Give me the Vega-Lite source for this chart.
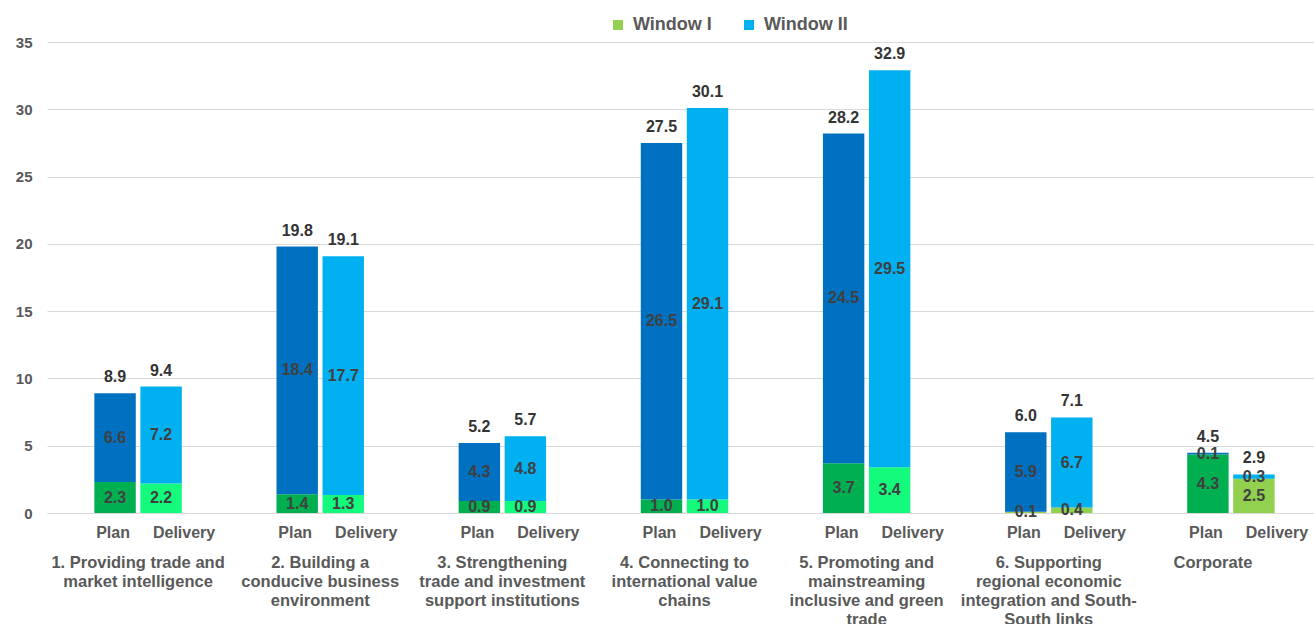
{
  "$schema": "https://vega.github.io/schema/vega-lite/v6.json",
  "autosize": {"type": "none"},
  "padding": {"left": 47, "top": 42, "right": 0, "bottom": 111},
  "width": 1267,
  "height": 471,
  "background": "white",
  "config": {
    "view": {"stroke": null},
    "font": "Liberation Sans"
  },
  "data": {
    "values": [
      {"group": "1. Providing trade and|market intelligence", "type": "Plan", "window": "Window I", "value": 2.3},
      {"group": "1. Providing trade and|market intelligence", "type": "Plan", "window": "Window II", "value": 6.6},
      {"group": "1. Providing trade and|market intelligence", "type": "Delivery", "window": "Window I", "value": 2.2},
      {"group": "1. Providing trade and|market intelligence", "type": "Delivery", "window": "Window II", "value": 7.2},
      {"group": "2. Building a|conducive business|environment", "type": "Plan", "window": "Window I", "value": 1.4},
      {"group": "2. Building a|conducive business|environment", "type": "Plan", "window": "Window II", "value": 18.4},
      {"group": "2. Building a|conducive business|environment", "type": "Delivery", "window": "Window I", "value": 1.33},
      {"group": "2. Building a|conducive business|environment", "type": "Delivery", "window": "Window II", "value": 17.74},
      {"group": "3. Strengthening|trade and investment|support institutions", "type": "Plan", "window": "Window I", "value": 0.9},
      {"group": "3. Strengthening|trade and investment|support institutions", "type": "Plan", "window": "Window II", "value": 4.3},
      {"group": "3. Strengthening|trade and investment|support institutions", "type": "Delivery", "window": "Window I", "value": 0.9},
      {"group": "3. Strengthening|trade and investment|support institutions", "type": "Delivery", "window": "Window II", "value": 4.8},
      {"group": "4. Connecting to|international value|chains", "type": "Plan", "window": "Window I", "value": 1.0},
      {"group": "4. Connecting to|international value|chains", "type": "Plan", "window": "Window II", "value": 26.5},
      {"group": "4. Connecting to|international value|chains", "type": "Delivery", "window": "Window I", "value": 1.0},
      {"group": "4. Connecting to|international value|chains", "type": "Delivery", "window": "Window II", "value": 29.1},
      {"group": "5. Promoting and|mainstreaming|inclusive and green|trade", "type": "Plan", "window": "Window I", "value": 3.7},
      {"group": "5. Promoting and|mainstreaming|inclusive and green|trade", "type": "Plan", "window": "Window II", "value": 24.5},
      {"group": "5. Promoting and|mainstreaming|inclusive and green|trade", "type": "Delivery", "window": "Window I", "value": 3.4},
      {"group": "5. Promoting and|mainstreaming|inclusive and green|trade", "type": "Delivery", "window": "Window II", "value": 29.5},
      {"group": "6. Supporting|regional economic|integration and South-|South links", "type": "Plan", "window": "Window I", "value": 0.1},
      {"group": "6. Supporting|regional economic|integration and South-|South links", "type": "Plan", "window": "Window II", "value": 5.9},
      {"group": "6. Supporting|regional economic|integration and South-|South links", "type": "Delivery", "window": "Window I", "value": 0.4},
      {"group": "6. Supporting|regional economic|integration and South-|South links", "type": "Delivery", "window": "Window II", "value": 6.7},
      {"group": "Corporate", "type": "Plan", "window": "Window I", "value": 4.34},
      {"group": "Corporate", "type": "Plan", "window": "Window II", "value": 0.13},
      {"group": "Corporate", "type": "Delivery", "window": "Window I", "value": 2.54},
      {"group": "Corporate", "type": "Delivery", "window": "Window II", "value": 0.33}
    ]
  },
  "transform": [
    {"stack": "value", "groupby": ["group", "type"], "sort": [{"field": "window", "order": "ascending"}], "as": ["v0", "v1"]},
    {"calculate": "(datum.v0 + datum.v1) / 2", "as": "mid"}
  ],
  "encoding": {
    "x": {
      "field": "group",
      "type": "nominal",
      "sort": null,
      "scale": {
        "domain": [
          "1. Providing trade and|market intelligence",
          "2. Building a|conducive business|environment",
          "3. Strengthening|trade and investment|support institutions",
          "4. Connecting to|international value|chains",
          "5. Promoting and|mainstreaming|inclusive and green|trade",
          "6. Supporting|regional economic|integration and South-|South links",
          "Corporate"
        ],
        "range": [0, 1275],
        "paddingInner": 0.52,
        "paddingOuter": 0.26
      },
      "axis": {
        "title": null,
        "labelExpr": "split(datum.value, '|')",
        "labelAngle": 0,
        "labelAlign": "center",
        "labelBaseline": "top",
        "labelFont": "Liberation Sans",
        "labelFontSize": 16.5,
        "labelFontWeight": "bold",
        "labelColor": "#595959",
        "labelLineHeight": 19,
        "labelPadding": 41,
        "labelLimit": 400,
        "labelOffset": {"condition": {"test": "datum.value == 'Corporate'", "value": -18}, "value": 0},
        "ticks": false,
        "tickSize": 0,
        "grid": false,
        "domain": true,
        "domainColor": "#D9D9D9",
        "domainWidth": 1
      }
    },
    "xOffset": {
      "field": "type",
      "type": "nominal",
      "scale": {"domain": ["Plan", "Delivery"], "paddingInner": 0.1, "paddingOuter": 0}
    }
  },
  "layer": [
    {
      "mark": {"type": "bar"},
      "encoding": {
        "y": {
          "field": "v0",
          "type": "quantitative",
          "scale": {"domain": [0, 35], "nice": false, "zero": true},
          "axis": {
            "title": null,
            "values": [0, 5, 10, 15, 20, 25, 30, 35],
            "grid": true,
            "gridColor": "#D9D9D9",
            "gridWidth": 1,
            "domain": false,
            "ticks": false,
            "tickSize": 0,
            "labelPadding": 15,
            "labelFont": "Liberation Sans",
            "labelFontSize": 15,
            "labelFontWeight": "bold",
            "labelColor": "#595959"
          }
        },
        "y2": {"field": "v1"},
        "fill": {
          "condition": [
            {"test": "datum.window == 'Window I' && (indexof(datum.group, '6.') == 0 || (datum.group == 'Corporate' && datum.type == 'Delivery'))", "value": "#92D050"},
            {"test": "datum.type == 'Plan' && datum.window == 'Window I'", "value": "#00B050"},
            {"test": "datum.type == 'Plan'", "value": "#0070C0"},
            {"test": "datum.window == 'Window I'", "value": "#14FA7C"}
          ],
          "value": "#00B0F0"
        }
      }
    },
    {
      "mark": {"type": "text", "font": "Liberation Sans", "fontSize": 16, "fontWeight": "bold", "color": "#404040", "baseline": "middle", "align": "center"},
      "encoding": {
        "y": {"field": "mid", "type": "quantitative", "title": null},
        "text": {"field": "value", "type": "quantitative", "format": ".1f"}
      }
    },
    {
      "transform": [{"filter": "datum.window == 'Window II'"}],
      "mark": {"type": "text", "font": "Liberation Sans", "fontSize": 16, "fontWeight": "bold", "color": "#333333", "baseline": "middle", "align": "center", "dy": -16},
      "encoding": {
        "y": {"field": "v1", "type": "quantitative", "title": null},
        "text": {"field": "v1", "type": "quantitative", "format": ".1f"}
      }
    },
    {
      "transform": [{"filter": "datum.window == 'Window II' && datum.type == 'Plan'"}],
      "mark": {"type": "text", "font": "Liberation Sans", "fontSize": 16, "fontWeight": "bold", "color": "#595959", "baseline": "middle", "align": "center", "dy": 20, "dx": -2},
      "encoding": {
        "y": {"datum": 0, "type": "quantitative"},
        "text": {"field": "type"}
      }
    },
    {
      "transform": [{"filter": "datum.window == 'Window II' && datum.type == 'Delivery'"}],
      "mark": {"type": "text", "font": "Liberation Sans", "fontSize": 16, "fontWeight": "bold", "color": "#595959", "baseline": "middle", "align": "center", "dy": 20, "dx": 23},
      "encoding": {
        "y": {"datum": 0, "type": "quantitative"},
        "text": {"field": "type"}
      }
    },
    {
      "mark": {"type": "point", "filled": true, "opacity": 0, "shape": "square"},
      "encoding": {
        "y": {"datum": 0, "type": "quantitative"},
        "color": {
          "field": "window",
          "type": "nominal",
          "scale": {"domain": ["Window I", "Window II"], "range": ["#92D050", "#00B0F0"]},
          "legend": {
            "title": null,
            "orient": "none",
            "legendX": 562,
            "legendY": -26,
            "direction": "horizontal",
            "padding": 0,
            "symbolType": "square",
            "symbolSize": 100,
            "symbolOpacity": 1,
            "symbolStrokeWidth": 0,
            "labelFont": "Liberation Sans",
            "labelFontSize": 18,
            "labelFontWeight": "bold",
            "labelColor": "#595959",
            "labelOffset": 6,
            "columnPadding": 28
          }
        }
      }
    }
  ]
}
